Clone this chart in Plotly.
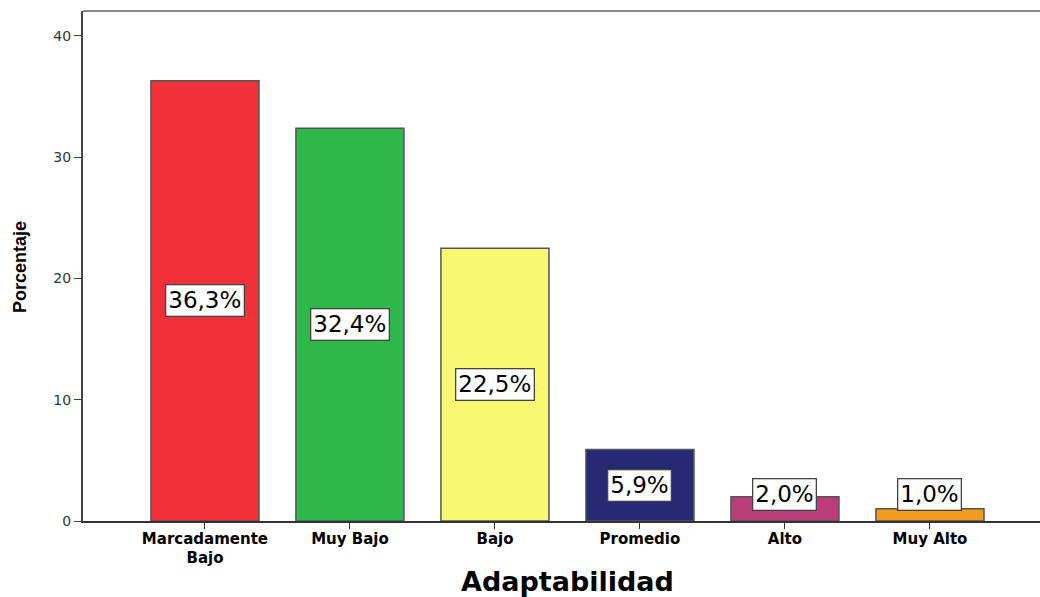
import plotly.graph_objects as go

categories = ["Marcadamente<br>Bajo", "Muy Bajo", "Bajo", "Promedio", "Alto", "Muy Alto"]
values = [36.3, 32.4, 22.5, 5.9, 2.0, 1.0]
labels = ["36,3%", "32,4%", "22,5%", "5,9%", "2,0%", "1,0%"]
colors = ["#EF3139", "#2EB84A", "#FAF771", "#262A72", "#B93D7B", "#F49A1F"]
y_ticks = [0, 10, 20, 30, 40]

fig = go.Figure()
fig.add_trace(go.Bar(
    x=list(range(len(categories))), y=values, width=0.745,
    marker=dict(color=colors, line=dict(color="#555555", width=1.5)),
    hoverinfo="skip",
))

for i, (v, t) in enumerate(zip(values, labels)):
    fig.add_annotation(
        x=i, y=max(v / 2, 2.15), text=t, showarrow=False,
        font=dict(family="DejaVu Sans", size=23, color="black"),
        bgcolor="white", bordercolor="#444444", borderwidth=1.3, borderpad=2,
        xref="x", yref="y",
    )

# axis titles
fig.add_annotation(xref="paper", yref="paper", x=(567 - 83) / (1040 - 83), y=0,
                   yshift=-60, yanchor="middle", xanchor="center", showarrow=False,
                   text="<b>Adaptabilidad</b>",
                   font=dict(family="DejaVu Sans", size=27, color="black"))
fig.add_annotation(xref="paper", yref="paper", x=0, y=(521 - 267) / 510, xshift=-63,
                   xanchor="center", yanchor="middle", textangle=-90, showarrow=False,
                   text="<b>Porcentaje</b>",
                   font=dict(family="Liberation Sans", size=18, color="black"))

fig.add_shape(type="line", xref="paper", yref="paper", x0=0, x1=1, y0=1, y1=1,
              line=dict(color="#888888", width=2))

fig.update_layout(
    width=1040, height=597,
    margin=dict(l=83, r=0, t=11, b=76, autoexpand=False),
    plot_bgcolor="white", paper_bgcolor="white",
    showlegend=False,
    xaxis=dict(
        range=[-0.841, 5.759],
        tickmode="array", tickvals=list(range(len(categories))),
        ticktext=["<b>%s</b>" % c for c in categories],
        tickfont=dict(family="DejaVu Sans", size=15, color="black"),
        showline=True, linecolor="#333333", linewidth=1.5,
        ticks="outside", ticklen=6, tickcolor="#333333", ticklabelstandoff=-3,
        showgrid=False, zeroline=False, automargin=False,
    ),
    yaxis=dict(
        range=[0, 42.06],
        tickmode="array", tickvals=y_ticks,
        tickfont=dict(family="DejaVu Sans", size=14, color="#333333"),
        showline=True, linecolor="#444444", linewidth=2,
        ticks="outside", ticklen=7, tickcolor="#444444",
        showgrid=False, zeroline=False, automargin=False,
    ),
)

fig.write_html("out.html", post_script="document.body.style.margin='0';",
               config={"displayModeBar": False})
